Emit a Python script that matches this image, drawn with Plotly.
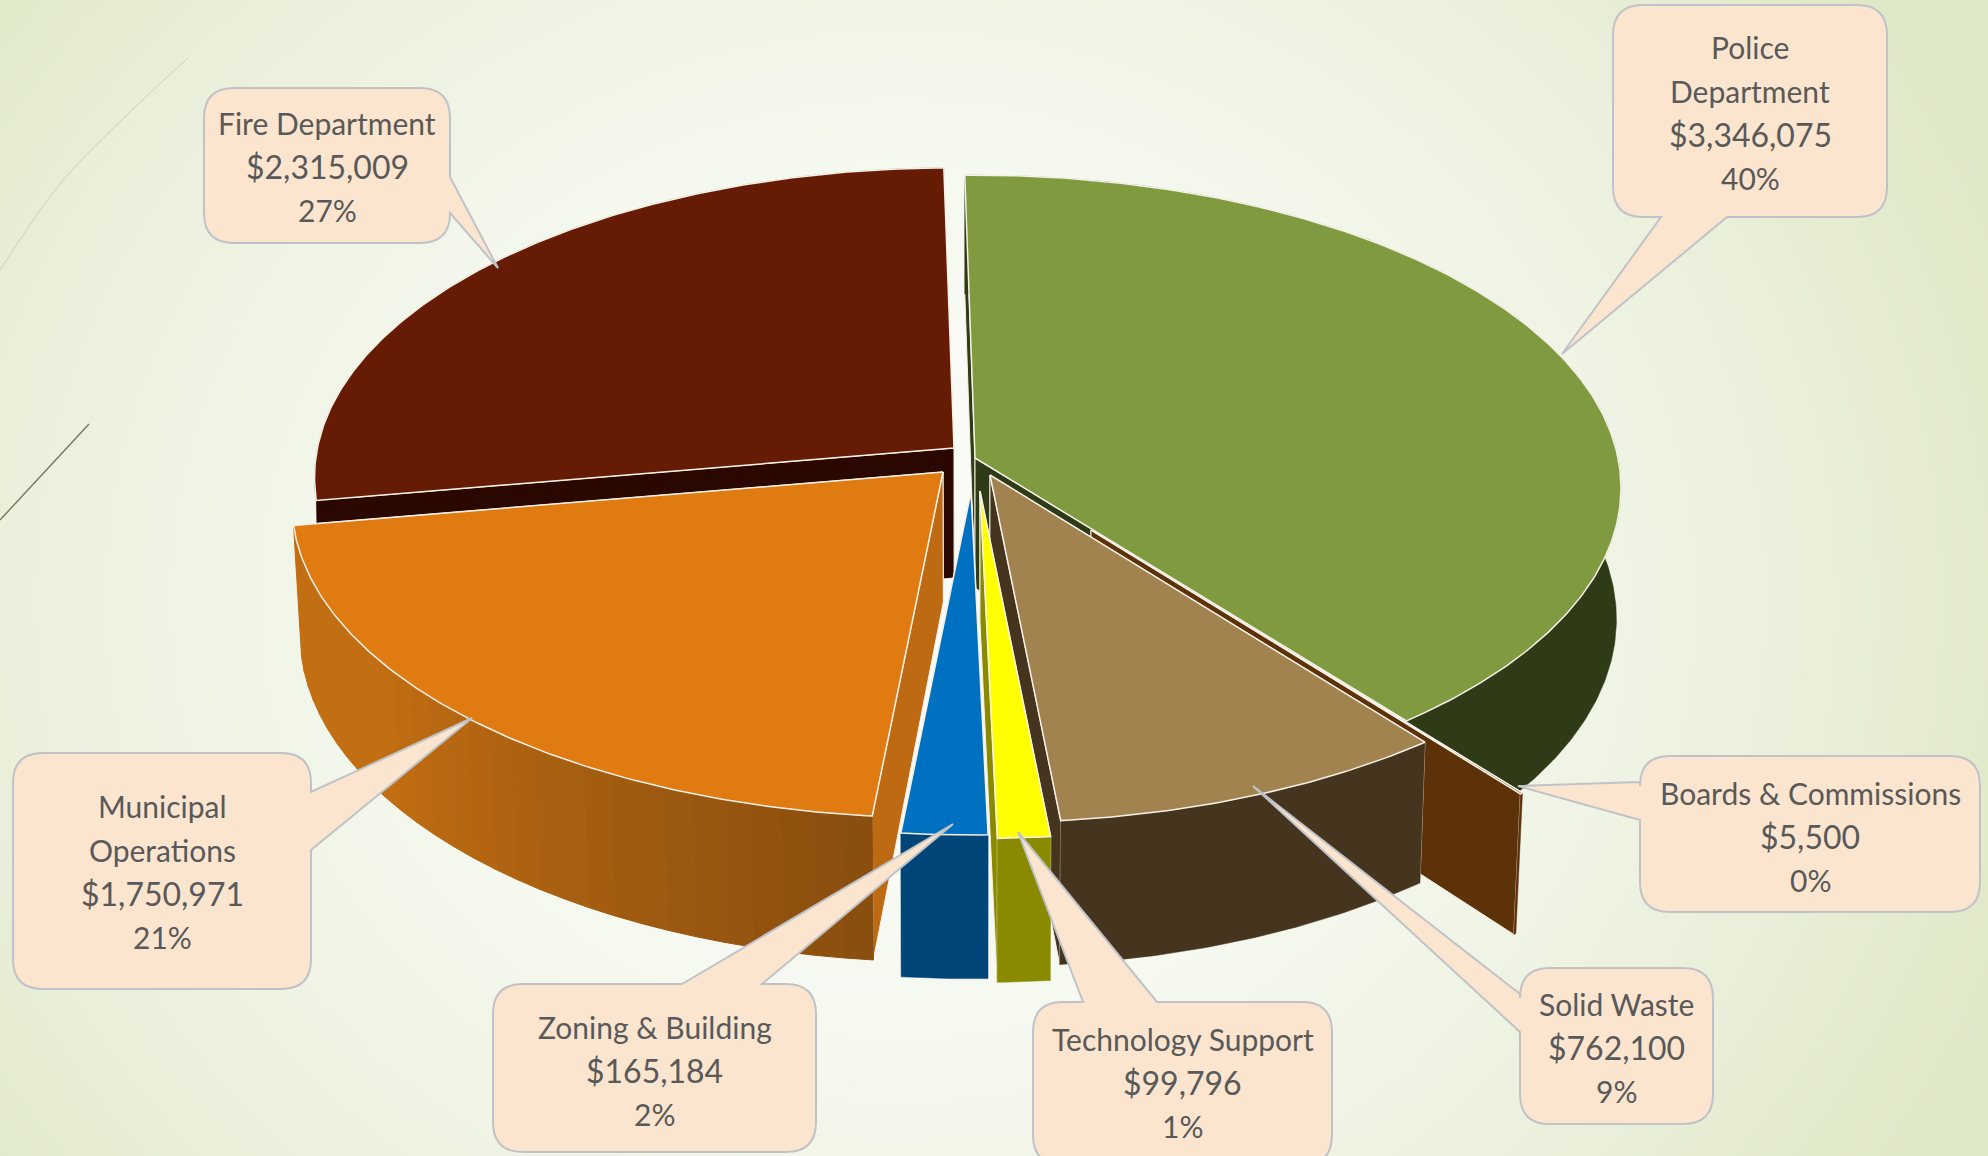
import math
import numpy as np
import plotly.graph_objects as go

# ---- data ----
departments = ["Police Department", "Boards & Commissions", "Solid Waste", "Technology Support",
               "Zoning & Building", "Municipal Operations", "Fire Department"]
budget = [3346075, 5500, 762100, 99796, 165184, 1750971, 2315009]

# ---- styling / layout ----
W, H = 1988, 1156
START = -1.0
RX, RY, K = 643.0, 310.0, 0.096
DEPTH, VX = 130.0, 970.0
APEX = {"Police Department": (975, 458), "Boards & Commissions": (1091, 530), "Solid Waste": (990, 475),
        "Technology Support": (980, 491), "Zoning & Building": (971, 492),
        "Municipal Operations": (943, 472), "Fire Department": (954, 448)}
RSCALE = {"Police Department": 1.0, "Boards & Commissions": 1.0, "Solid Waste": 1.012,
          "Technology Support": 1.012, "Zoning & Building": 1.0,
          "Municipal Operations": 1.008, "Fire Department": 0.99}
SHRINK = {"Police Department": 0.007, "Boards & Commissions": 0.012, "Solid Waste": 0.011,
          "Technology Support": 0.005, "Zoning & Building": 0.005,
          "Municipal Operations": 0.012, "Fire Department": 0.005}
TOP = {"Police Department": "#7F9A3F", "Boards & Commissions": "#7A4410", "Solid Waste": "#A28350",
       "Technology Support": "#FFFF00", "Zoning & Building": "#0070C0",
       "Municipal Operations": "#E07B12", "Fire Department": "#661C04"}
SIDE = {"Police Department": "#2F3A16", "Boards & Commissions": "#5E3208", "Solid Waste": "#45341E",
        "Technology Support": "#8A8A00", "Zoning & Building": "#004578",
        "Municipal Operations": "#BD6A12", "Fire Department": "#2A0800"}
ORDER = ["Fire Department", "Police Department", "Boards & Commissions", "Solid Waste",
         "Municipal Operations", "Zoning & Building", "Technology Support"]
LEFT_SIDE = {"Fire Department", "Municipal Operations"}
EDGE = "#F6F1E8"
LABEL_LINES = {"Police Department": ["Police", "Department"], "Municipal Operations": ["Municipal", "Operations"]}
# box x0,y0,x1,y1, side, base a, base b (clockwise), tip x, tip y, first-line y
CALLOUT = {
    "Police Department": (1613, 5, 1887, 217, "bottom", 1727, 1661, 1562, 354, 47),
    "Boards & Commissions": (1640, 756, 1980, 912, "left", 820, 782, 1518, 786, 793),
    "Solid Waste": (1520, 968, 1713, 1124, "left", 1032, 994, 1253, 786, 1004),
    "Technology Support": (1033, 1002, 1332, 1165, "top", 1083, 1157, 1018, 832, 1039),
    "Zoning & Building": (493, 984, 816, 1152, "top", 682, 762, 953, 824, 1027),
    "Municipal Operations": (13, 753, 311, 989, "right", 792, 850, 472, 718, 806),
    "Fire Department": (204, 88, 450, 243, "right", 177, 213, 498, 268, 123),
}
LINE_STEP = 43.7


def proj(n, th, r, z=0.0):
    apex = APEX[n]
    r = r * RSCALE[n]
    a = math.radians(th)
    s = 1.0 / (1.0 + K * r * math.cos(a))
    x = apex[0] + RX * r * math.sin(a) * s
    y = apex[1] - RY * r * math.cos(a) * s
    if z:
        y += DEPTH * s * z
        x = VX + (x - VX) * (1 - SHRINK[n] * z)
    return x, y


def poly(fig, pts, fill, line=None, width=1.2):
    xs = [p[0] for p in pts] + [pts[0][0]]
    ys = [p[1] for p in pts] + [pts[0][1]]
    fig.add_trace(go.Scatter(x=xs, y=ys, mode="lines", fill="toself", fillcolor=fill,
                             line=dict(color=line or fill, width=width), hoverinfo="skip", showlegend=False))


def mix(c0, c1, t):
    a = [int(c0[i:i + 2], 16) for i in (1, 3, 5)]
    b = [int(c1[i:i + 2], 16) for i in (1, 3, 5)]
    return "#%02X%02X%02X" % tuple(round(u + (v - u) * t) for u, v in zip(a, b))


fig = go.Figure()

# background glow
gx = np.linspace(0, W, 60)
gy = np.linspace(0, H, 40)
X, Y = np.meshgrid(gx, gy)
R = np.clip(np.sqrt(((X - 900) / 1180) ** 2 + ((Y - 600) / 1050) ** 2), 0, 1)
fig.add_trace(go.Heatmap(x=gx, y=gy, z=R, zmin=0, zmax=1, zsmooth="best", showscale=False, hoverinfo="skip",
                         colorscale=[[0, "#FBFCF8"], [0.4, "#F6F9F0"], [0.72, "#ECF1DE"], [1, "#DFE8C7"]]))

# decorative strokes
fig.add_trace(go.Scatter(x=[188, 130, 60, 0], y=[58, 112, 184, 270], mode="lines",
                         line=dict(color="#CBD1B4", width=1, shape="spline"), hoverinfo="skip", showlegend=False))
fig.add_trace(go.Scatter(x=[89, 0], y=[424, 520], mode="lines", line=dict(color="#77745A", width=1.4),
                         hoverinfo="skip", showlegend=False))

# wedge angles from the values
total = sum(budget)
angles = {}
a0 = START
for n, v in zip(departments, budget):
    a1 = a0 + 360.0 * v / total
    angles[n] = (a0, a1)
    a0 = a1

for n in ORDER:
    t0, t1 = angles[n]
    arc = list(np.linspace(t0, t1, max(3, int((t1 - t0) * 2))))
    # radial walls: the wall that faces the viewer goes last
    for t in ((t1, t0) if n in LEFT_SIDE else (t0, t1)):
        poly(fig, [proj(n, t, 0), proj(n, t, 1), proj(n, t, 1, 1), proj(n, t, 0, 1)], SIDE[n], EDGE, 1.0)
    # outer wall
    if n == "Municipal Operations":
        m = 30
        ts = np.linspace(t0, t1, m + 1)
        for i in range(m):
            f = i / (m - 1)
            col = mix("#8A4E0F", "#C26E12", min(1, f * 1.5))
            poly(fig, [proj(n, ts[i], 1), proj(n, ts[i + 1], 1), proj(n, ts[i + 1], 1, 1), proj(n, ts[i], 1, 1)], col, col, 1.0)
    else:
        top_arc = [proj(n, t, 1) for t in arc]
        bot_arc = [proj(n, t, 1, 1) for t in reversed(arc)]
        poly(fig, top_arc + bot_arc, SIDE[n], SIDE[n], 0.5)
    # top face
    poly(fig, [proj(n, 0, 0)] + [proj(n, t, 1) for t in arc], TOP[n], EDGE, 1.5)


def callout_path(x0, y0, x1, y1, side, a, b, tx, ty, r=30):
    d = [f"M{x0 + r},{y0}"]
    if side == "top":
        d += [f"L{a},{y0}", f"L{tx},{ty}", f"L{b},{y0}"]
    d += [f"L{x1 - r},{y0}", f"Q{x1},{y0} {x1},{y0 + r}"]
    if side == "right":
        d += [f"L{x1},{a}", f"L{tx},{ty}", f"L{x1},{b}"]
    d += [f"L{x1},{y1 - r}", f"Q{x1},{y1} {x1 - r},{y1}"]
    if side == "bottom":
        d += [f"L{a},{y1}", f"L{tx},{ty}", f"L{b},{y1}"]
    d += [f"L{x0 + r},{y1}", f"Q{x0},{y1} {x0},{y1 - r}"]
    if side == "left":
        d += [f"L{x0},{a}", f"L{tx},{ty}", f"L{x0},{b}"]
    d += [f"L{x0},{y0 + r}", f"Q{x0},{y0} {x0 + r},{y0}", "Z"]
    return " ".join(d)


shapes, annotations = [], []
for n, v in zip(departments, budget):
    x0, y0, x1, y1, side, a, b, tx, ty, ly = CALLOUT[n]
    shapes.append(dict(type="path", xref="x", yref="y", path=callout_path(x0, y0, x1, y1, side, a, b, tx, ty),
                       fillcolor="#FBE5CF", line=dict(color="#BFC3C8", width=2), layer="above"))
    lines = LABEL_LINES.get(n, [n]) + [f"${v:,}", f"{round(100 * v / total)}%"]
    for i, s in enumerate(lines):
        annotations.append(dict(x=(x0 + x1) / 2, y=ly + i * LINE_STEP, xref="x", yref="y", text=s, showarrow=False,
                                xanchor="center", yanchor="middle",
                                font=dict(family="Lato", size=32 if s.startswith("$") else 30, color="#595959")))

fig.update_layout(width=W, height=H, margin=dict(l=0, r=0, t=0, b=0), autosize=False,
                  paper_bgcolor="#F5F8EE", plot_bgcolor="rgba(0,0,0,0)", showlegend=False,
                  xaxis=dict(range=[0, W], visible=False, fixedrange=True),
                  yaxis=dict(range=[H, 0], visible=False, fixedrange=True),
                  shapes=shapes, annotations=annotations)
fig.write_html("out.html", config={"displayModeBar": False},
               post_script="document.body.style.margin='0';document.body.style.overflow='hidden';")
